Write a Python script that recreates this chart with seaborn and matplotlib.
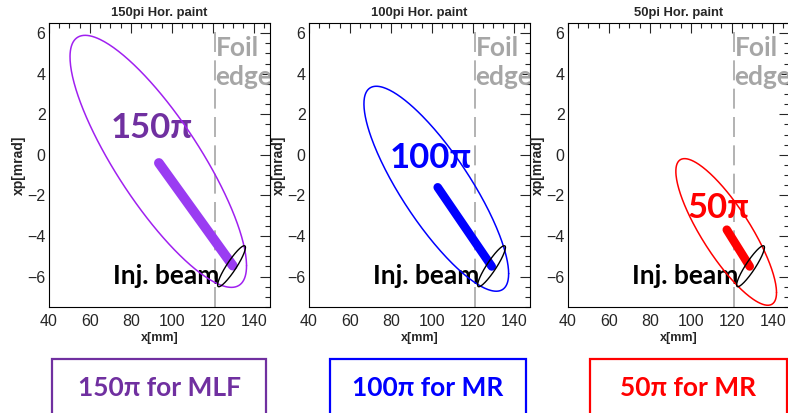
import numpy as np
import pandas as pd
import seaborn as sns
import matplotlib.pyplot as plt
from matplotlib.patches import Rectangle

# panel text
titles = ["150pi Hor. paint", "100pi Hor. paint", "50pi Hor. paint"]
emit_labels = ["150π", "100π", "50π"]
box_texts = ["150π for MLF", "100π for MR", "50π for MR"]
ring_colors = ["#A020F0", "#0000FF", "#FF0000"]
paint_colors = ["#9A3CF2", "#0000FF", "#FF0000"]
text_colors = ["#7030A0", "#0000FF", "#FF0000"]

# ring acceptance ellipses (Twiss): emittance [pi mm mrad], alpha, beta [m], centre
ring_emit = [150, 100, 50]
ring_alpha = [1.48, 1.48, 1.47]
ring_beta = [12.4, 12.5, 12.1]
ring_x0 = [93.4, 102.2, 117.3]
ring_xp0 = [-0.32, -1.67, -3.8]

# painting trajectory (start, end)
paint_x = [[93.7, 129.8], [102.9, 129.3], [117.6, 128.8]]
paint_xp = [[-0.4, -5.46], [-1.6, -5.5], [-3.69, -5.5]]

# injected beam ellipse
inj_emit = 2.8
inj_alpha = -2.24
inj_beta = 16.5
inj_x0 = 129.2
inj_xp0 = -5.49

foil_edge = 121
label_pos = [(90.2, 1.3), (99.5, -0.15), (113.7, -2.6)]


def twiss_ellipse(emit, alpha, beta, x0, xp0):
    t = np.linspace(0, 2 * np.pi, 300)
    x = x0 + np.sqrt(emit * beta) * np.cos(t)
    xp = xp0 - np.sqrt(emit / beta) * (alpha * np.cos(t) + np.sin(t))
    return pd.DataFrame({"x": x, "xp": xp})


sns.set_style("white")
plt.rcParams["font.family"] = ["Liberation Sans", "DejaVu Sans"]
big_font = ["Lato", "Open Sans", "DejaVu Sans"]

W, H = 788, 413
fig = plt.figure(figsize=(W / 100, H / 100), dpi=100)
lefts = [49, 309, 568]

for i in range(3):
    ax = fig.add_axes([lefts[i] / W, 106 / H, 221 / W, 284 / H])
    ax.set_xlim(40, 148)
    ax.set_ylim(-7.5, 6.5)

    ax.axvline(foil_edge, color="#A6A6A6", lw=1.2, dashes=(12, 5), zorder=1)
    ax.text(foil_edge + 0.4, 5.85, "Foil\nedge", color="#A6A6A6", fontsize=19,
            fontweight="bold", family=big_font, ha="left", va="top",
            linespacing=1.25, clip_on=True, zorder=2)

    ax.text(label_pos[i][0], label_pos[i][1], emit_labels[i], color=text_colors[i],
            fontsize=25, fontweight="bold", family=big_font, ha="center",
            va="center", zorder=2)
    ax.text(123.5, -5.95, "Inj. beam", color="black", fontsize=19,
            fontweight="bold", family=big_font, ha="right", va="center", zorder=2)

    ring = twiss_ellipse(ring_emit[i], ring_alpha[i], ring_beta[i], ring_x0[i], ring_xp0[i])
    sns.lineplot(data=ring, x="x", y="xp", sort=False, estimator=None,
                 color=ring_colors[i], lw=1.1, ax=ax, zorder=3)

    paint = pd.DataFrame({"x": paint_x[i], "xp": paint_xp[i]})
    sns.lineplot(data=paint, x="x", y="xp", sort=False, estimator=None,
                 color=paint_colors[i], lw=7 if i == 0 else 6.2, ax=ax,
                 solid_capstyle="round", zorder=4)

    inj = twiss_ellipse(inj_emit, inj_alpha, inj_beta, inj_x0, inj_xp0)
    sns.lineplot(data=inj, x="x", y="xp", sort=False, estimator=None,
                 color="black", lw=1.0, ax=ax, zorder=5)

    ax.set_xticks(np.arange(40, 141, 20))
    ax.set_xticks(np.arange(40, 148, 5), minor=True)
    ax.set_yticks(np.arange(-6, 7, 2))
    ax.set_yticks(np.arange(-7.5, 6.6, 0.5), minor=True)
    ax.tick_params(which="both", direction="in", top=True, right=True,
                   width=0.8, labelsize=11.5)
    ax.tick_params(axis="x", pad=5)
    ax.tick_params(axis="y", pad=2.5)
    ax.tick_params(which="major", length=7.5)
    ax.tick_params(which="minor", length=3.6)
    for s in ax.spines.values():
        s.set_linewidth(0.8)
        s.set_color("black")

    ax.set_title(titles[i], fontsize=9.4, fontweight="bold", pad=5)
    ax.set_xlabel("x[mm]", fontsize=9, fontweight="bold", labelpad=2)
    ax.set_ylabel("xp[mrad]", fontsize=10, fontweight="bold", labelpad=1)

# boxes below the panels
box_left = [52, 330, 590]
box_right = [266, 526, 787]
for i in range(3):
    x0, x1 = box_left[i] / W, box_right[i] / W
    fig.patches.append(Rectangle((x0, -0.1), x1 - x0, 0.1 + 54 / H,
                                 transform=fig.transFigure, fill=False,
                                 edgecolor=text_colors[i], lw=1.6))
    fig.text((x0 + x1) / 2, 25 / H, box_texts[i], color=text_colors[i],
             fontsize=19, fontweight="bold", family=big_font,
             ha="center", va="center")

fig.savefig("out.png", dpi=100)
